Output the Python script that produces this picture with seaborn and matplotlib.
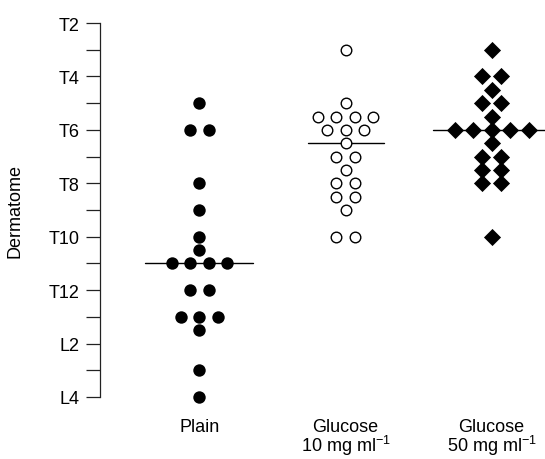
import matplotlib
matplotlib.use("Agg")
import matplotlib.pyplot as plt
import seaborn as sns
import pandas as pd

# dermatome levels: T2=2 ... T12=12, L1=13, L2=14, L3=15, L4=16
groups = ["Plain", "Glucose\n10 mg ml$^{-1}$", "Glucose\n50 mg ml$^{-1}$"]
plain = [5, 6, 6, 8, 9, 10, 10.5, 11, 11, 11, 11, 12, 12, 13, 13, 13, 13.5, 15, 16]
glucose10 = [3, 5, 5.5, 5.5, 5.5, 5.5, 6, 6, 6, 6.5, 7, 7, 7.5, 8, 8, 8.5, 8.5, 9, 10, 10]
glucose50 = [3, 4, 4, 4.5, 5, 5, 5.5, 6, 6, 6, 6, 6, 6.5, 7, 7, 7.5, 7.5, 8, 8, 10]
medians = [11, 6.5, 6]
tick_levels = list(range(2, 17))
tick_names = ["T2", "", "T4", "", "T6", "", "T8", "", "T10", "", "T12", "", "L2", "", "L4"]

sns.set_style("ticks")
plt.rcParams["font.family"] = ["Liberation Sans", "DejaVu Sans"]
plt.rcParams["mathtext.fontset"] = "custom"
plt.rcParams["mathtext.rm"] = "Liberation Sans"
plt.rcParams["mathtext.it"] = "Liberation Sans:italic"
plt.rcParams["text.color"] = "black"
plt.rcParams["xtick.color"] = "black"
plt.rcParams["ytick.color"] = "black"
plt.rcParams["axes.labelcolor"] = "black"


def dot_layout(values, gi, step=0.127):
    # spread equal values side by side, centred on the group position
    df = pd.DataFrame({"value": values})
    df["n"] = df.groupby("value")["value"].transform("count")
    df["k"] = df.groupby("value").cumcount()
    df["x"] = gi + (df["k"] - (df["n"] - 1) / 2) * step
    return df


fig = plt.figure(figsize=(5.45, 4.6), dpi=100)
ax = fig.add_axes([100 / 545, 1 - 398 / 460, 445 / 545, 374 / 460])

styles = [
    dict(marker="o", s=80, color="black", edgecolor="black", linewidth=0),
    dict(marker="o", s=58, facecolor="white", edgecolor="black", linewidth=1.0),
    dict(marker="D", s=76, color="black", edgecolor="black", linewidth=0),
]
half = [0.37, 0.26, 0.40]

for gi, vals in enumerate([plain, glucose10, glucose50]):
    ax.plot([gi - half[gi], gi + half[gi]], [medians[gi]] * 2, color="black",
            lw=1.0, zorder=1)
    d = dot_layout(vals, gi)
    sns.scatterplot(data=d, x="x", y="value", ax=ax, zorder=3, clip_on=False,
                    legend=False, **styles[gi])

ax.set_xlim(-0.68, 2.365)
ax.set_ylim(16, 2)
ax.set_yticks(tick_levels)
ax.set_yticklabels(tick_names, fontsize=13)
ax.set_xticks([0, 1, 2])
ax.set_xticklabels(groups, fontsize=13, linespacing=0.92)
ax.tick_params(axis="y", length=10, width=0.9, pad=5, color="#222222")
ax.tick_params(axis="x", length=0, pad=15)
for s in ["top", "right", "bottom"]:
    ax.spines[s].set_visible(False)
ax.spines["left"].set_linewidth(0.9)
ax.spines["left"].set_color("#222222")
ax.set_xlabel("")
ax.set_ylabel("Dermatome", fontsize=13)
ax.yaxis.set_label_coords(-0.172, 0.5)

fig.savefig("out.png", dpi=100)
